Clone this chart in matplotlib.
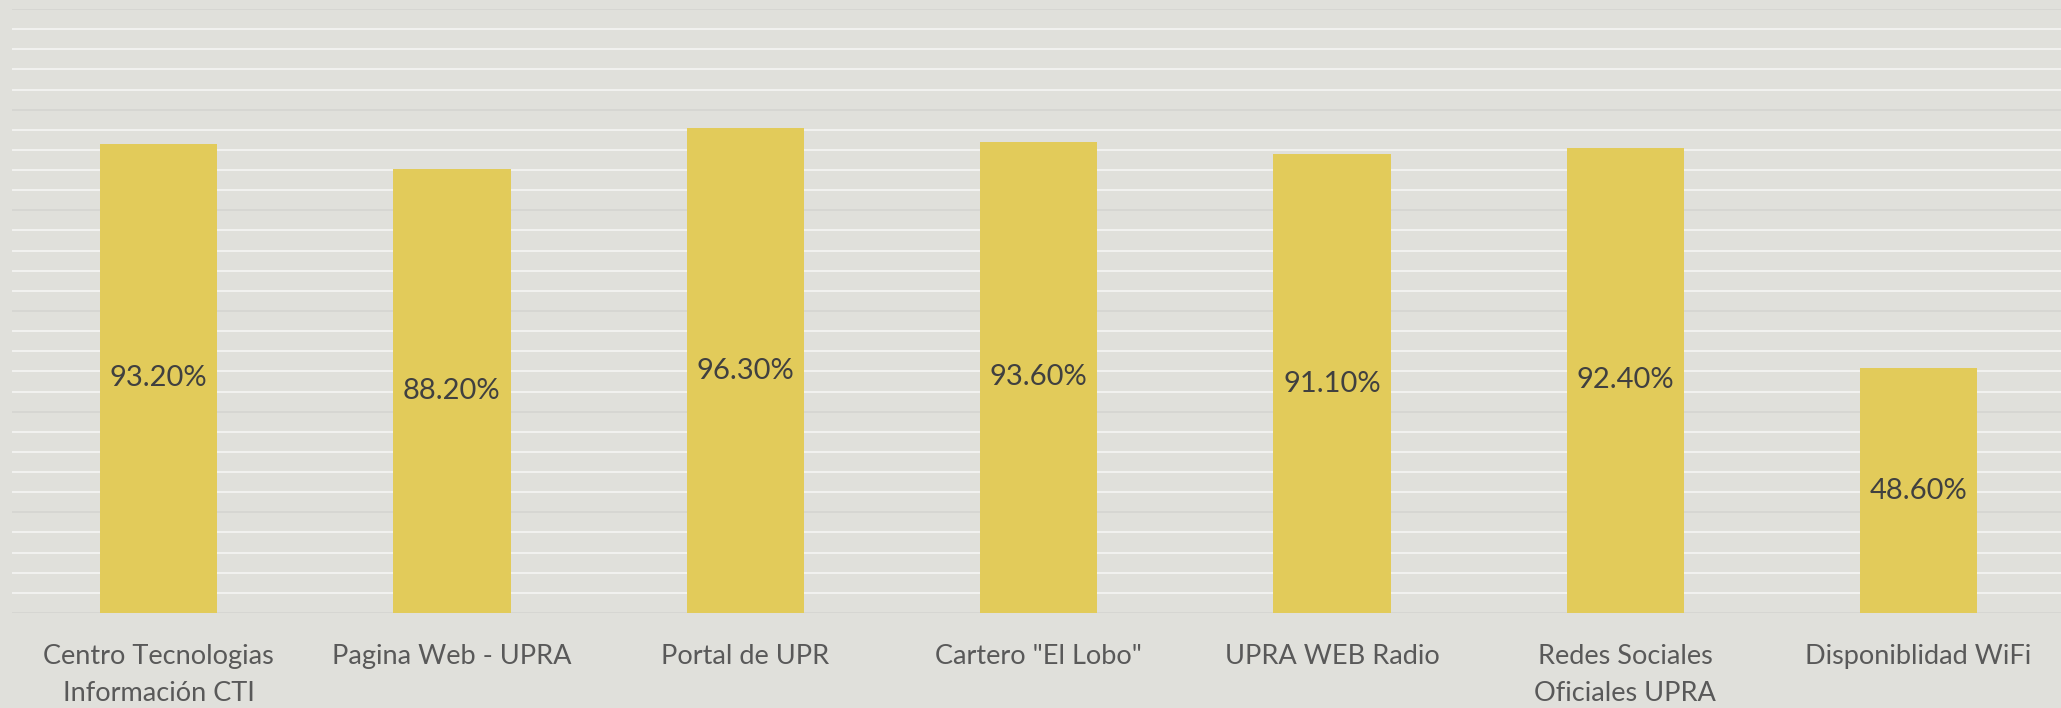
"""Bar chart of service satisfaction percentages."""

import matplotlib.pyplot as plt
from matplotlib.ticker import MultipleLocator
import numpy as np

categories = [
    "Centro Tecnologias\nInformación CTI",
    "Pagina Web - UPRA",
    "Portal de UPR",
    'Cartero "El Lobo"',
    "UPRA WEB Radio",
    "Redes Sociales\nOficiales UPRA",
    "Disponiblidad WiFi",
]
values = [93.2, 88.2, 96.3, 93.6, 91.1, 92.4, 48.6]
value_labels = ["93.20%", "88.20%", "96.30%", "93.60%", "91.10%", "92.40%", "48.60%"]

BG = "#e0e0db"
BAR = "#e2cb5a"
FONT = ["Lato", "DejaVu Sans"]

fig = plt.figure(figsize=(20.61, 7.08), dpi=100, facecolor=BG)
ax = fig.add_axes([0.00577, 0.1342, 0.9963, 0.8531], facecolor=BG)

x = np.arange(len(categories))
bars = ax.bar(x, values, width=0.4, color=BAR, zorder=3)

for rect, lab in zip(bars, value_labels):
    ax.text(rect.get_x() + rect.get_width() / 2, rect.get_height() / 2, lab,
            ha="center", va="center", fontsize=21, color="#404040",
            family=FONT, zorder=4)

ax.set_xlim(-0.5, len(categories) - 0.5)
ax.set_ylim(0, 120)
ax.yaxis.set_major_locator(MultipleLocator(20))
ax.yaxis.set_minor_locator(MultipleLocator(4))
ax.grid(which="minor", axis="y", color="#f2f2f0", linewidth=1.4, zorder=1)
ax.grid(which="major", axis="y", color="#d6d6d2", linewidth=1.4, zorder=2)
ax.tick_params(axis="y", which="both", left=False, labelleft=False)

ax.set_xticks(x)
ax.set_xticklabels(categories, fontsize=19.5, color="#595959", family=FONT,
                   linespacing=1.6)
ax.tick_params(axis="x", length=0, pad=22)

for side in ax.spines.values():
    side.set_visible(False)

fig.savefig("out.png", dpi=100, facecolor=BG)
